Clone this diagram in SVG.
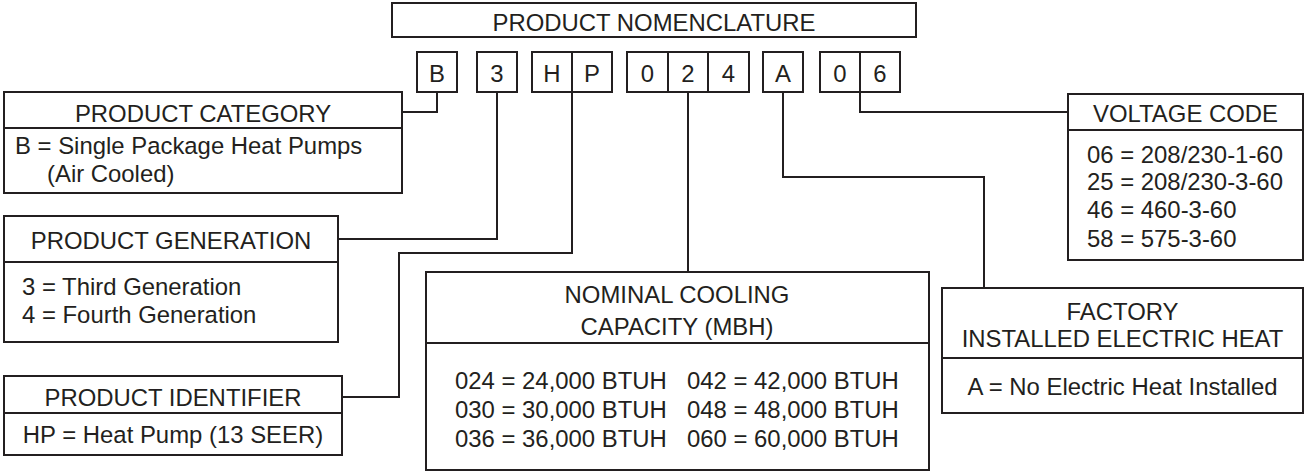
<svg xmlns="http://www.w3.org/2000/svg" width="1305" height="472" viewBox="0 0 1305 472">
<style>
.box{fill:#fff;stroke:#231f20;stroke-width:2}
.ln{fill:none;stroke:#231f20;stroke-width:2}
text{font-family:"Liberation Sans",Arial,sans-serif;font-size:23.9px;fill:#231f20}
.c{text-anchor:middle}
</style>
<rect width="1305" height="472" fill="#fff"/>
<g id="connectors">
<path class="ln" d="M437,92 V112 H402"/>
<path class="ln" d="M497,92 V239 H338"/>
<path class="ln" d="M572,92 V253 H399 V397 H342"/>
<path class="ln" d="M688,92 V272"/>
<path class="ln" d="M783,92 V177 H984 V288"/>
<path class="ln" d="M860,92 V112 H1068"/>
</g>
<g id="title">
<rect class="box" x="392" y="3" width="524" height="34"/>
<text class="c" x="654" y="30.5">PRODUCT NOMENCLATURE</text>
</g>
<g id="code">
<rect class="box" x="417" y="52" width="40" height="40"/>
<text class="c" x="437" y="82">B</text>
<rect class="box" x="477" y="52" width="40" height="40"/>
<text class="c" x="497" y="82">3</text>
<rect class="box" x="532" y="52" width="80" height="40"/>
<path class="ln" d="M572,52 V92"/>
<text class="c" x="552" y="82">H</text>
<text class="c" x="592" y="82">P</text>
<rect class="box" x="627" y="52" width="122" height="40"/>
<path class="ln" d="M668,52 V92 M708,52 V92"/>
<text class="c" x="647.5" y="82">0</text>
<text class="c" x="688" y="82">2</text>
<text class="c" x="728.5" y="82">4</text>
<rect class="box" x="763" y="52" width="40" height="40"/>
<text class="c" x="783" y="82">A</text>
<rect class="box" x="820" y="52" width="80" height="40"/>
<path class="ln" d="M860,52 V92"/>
<text class="c" x="840" y="82">0</text>
<text class="c" x="880" y="82">6</text>
</g>
<g id="category">
<rect class="box" x="4" y="92" width="398" height="101"/>
<path class="ln" d="M4,128 H402"/>
<text class="c" x="203" y="122">PRODUCT CATEGORY</text>
<text x="15" y="154">B = Single Package Heat Pumps</text>
<text x="47" y="182">(Air Cooled)</text>
</g>
<g id="generation">
<rect class="box" x="4" y="216" width="334" height="126"/>
<path class="ln" d="M4,262 H338"/>
<text class="c" x="171" y="249">PRODUCT GENERATION</text>
<text x="22" y="295">3 = Third Generation</text>
<text x="22" y="323">4 = Fourth Generation</text>
</g>
<g id="identifier">
<rect class="box" x="4" y="376" width="338" height="79"/>
<path class="ln" d="M4,413 H342"/>
<text class="c" x="173" y="406">PRODUCT IDENTIFIER</text>
<text class="c" x="173" y="443">HP = Heat Pump (13 SEER)</text>
</g>
<g id="capacity">
<rect class="box" x="426" y="272" width="503" height="198"/>
<path class="ln" d="M426,343 H929"/>
<text class="c" x="677" y="303">NOMINAL COOLING</text>
<text class="c" x="677" y="335">CAPACITY (MBH)</text>
<text x="455" y="389">024 = 24,000 BTUH</text>
<text x="455" y="418">030 = 30,000 BTUH</text>
<text x="455" y="447">036 = 36,000 BTUH</text>
<text x="687" y="389">042 = 42,000 BTUH</text>
<text x="687" y="418">048 = 48,000 BTUH</text>
<text x="687" y="447">060 = 60,000 BTUH</text>
</g>
<g id="heat">
<rect class="box" x="942" y="288" width="361" height="125"/>
<path class="ln" d="M942,358 H1303"/>
<text class="c" x="1122.5" y="320">FACTORY</text>
<text class="c" x="1122.5" y="347">INSTALLED ELECTRIC HEAT</text>
<text class="c" x="1122.5" y="395">A = No Electric Heat Installed</text>
</g>
<g id="voltage">
<rect class="box" x="1068" y="94" width="235" height="166"/>
<path class="ln" d="M1068,130 H1303"/>
<text class="c" x="1185.5" y="122">VOLTAGE CODE</text>
<text x="1087" y="163">06 = 208/230-1-60</text>
<text x="1087" y="190">25 = 208/230-3-60</text>
<text x="1087" y="218">46 = 460-3-60</text>
<text x="1087" y="247">58 = 575-3-60</text>
</g>
</svg>
